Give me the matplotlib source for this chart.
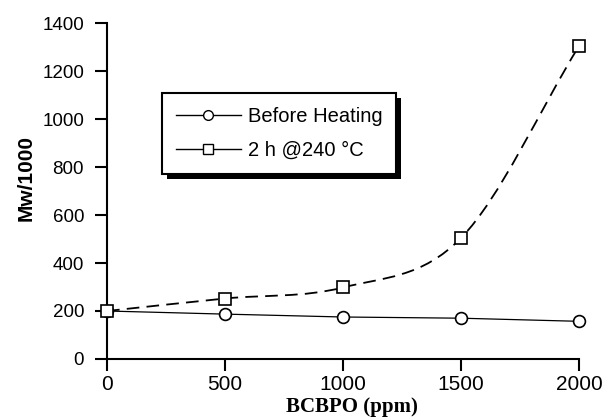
import matplotlib.pyplot as plt
from matplotlib.lines import Line2D
from matplotlib.path import Path
from matplotlib.patches import PathPatch, Rectangle
import numpy as np

ppm = [0, 500, 1000, 1500, 2000]
mw_before = [200, 187, 175, 170, 157]
mw_heated = [200, 252, 298, 504, 1304]
xticks = [0, 500, 1000, 1500, 2000]
yticks = [0, 200, 400, 600, 800, 1000, 1200, 1400]

fig = plt.figure(figsize=(6.06, 4.19), dpi=100)
ax = fig.add_axes([0.1766, 0.1432, 0.7788, 0.8019])

# before heating: thin solid line
ax.plot(ppm, mw_before, color='black', lw=0.9, marker='o', ms=8.5, mfc='white',
        mec='black', mew=1.2, clip_on=False, zorder=3)

# heated: smooth dashed curve through the points (catmull-rom as bezier)
pts = np.column_stack([ppm, mw_heated]).astype(float)
ext = np.vstack([2*pts[0]-pts[1], pts, 2*pts[-1]-pts[-2]])
verts = [tuple(pts[0])]
codes = [Path.MOVETO]
for i in range(1, len(ext)-2):
    p0, p1, p2, p3 = ext[i-1], ext[i], ext[i+1], ext[i+2]
    c1 = p1 + (p2-p0)/6
    c2 = p2 - (p3-p1)/6
    verts += [tuple(c1), tuple(c2), tuple(p2)]
    codes += [Path.CURVE4]*3
curve = PathPatch(Path(verts, codes), fill=False, edgecolor='black', lw=1.3,
                  linestyle=(0, (7, 4)), clip_on=False, zorder=2)
ax.add_patch(curve)
ax.plot(ppm, mw_heated, ls='none', marker='s', ms=8.5, mfc='white',
        mec='black', mew=1.2, clip_on=False, zorder=3)

ax.set_xlim(0, 2000)
ax.set_ylim(0, 1400)
ax.set_xticks(xticks)
ax.set_yticks(yticks)
for s in ['top', 'right']:
    ax.spines[s].set_visible(False)
for s in ['left', 'bottom']:
    ax.spines[s].set_linewidth(1.5)
ax.tick_params(length=8.5, width=1.5, direction='out')
ax.tick_params(axis='x', labelsize=15, pad=3)
ax.tick_params(axis='y', labelsize=13.5, pad=8)
for lab in ax.get_xticklabels() + ax.get_yticklabels():
    lab.set_family('Liberation Sans')

ax.set_xlabel('BCBPO (ppm)', family='Liberation Serif', weight='bold', fontsize=15)
ax.xaxis.set_label_coords(0.519, -0.112)
ax.set_ylabel('Mw/1000', family='Liberation Sans', weight='bold', fontsize=15)
ax.yaxis.set_label_coords(-0.152, 0.539)

handles = [
    Line2D([], [], color='black', lw=1, marker='o', ms=7, mfc='white', mec='black'),
    Line2D([], [], color='black', lw=1, marker='s', ms=7, mfc='white', mec='black'),
]
leg = ax.legend(handles, ['Before Heating', '2 h @240 °C'], loc='upper left',
                bbox_to_anchor=(0.1165, 0.7917), borderaxespad=0, fancybox=False,
                edgecolor='black', framealpha=1,
                prop={'family': 'Liberation Sans', 'size': 14.5},
                handlelength=3.2, handletextpad=0.35, borderpad=0.7,
                labelspacing=0.75)
leg.get_frame().set_linewidth(1.5)

# heavy drop shadow behind the legend box
fig.canvas.draw()
bb = leg.get_frame().get_window_extent().transformed(fig.transFigure.inverted())
dx, dy = 5/606, 5/419
ax.add_patch(Rectangle((bb.x0+dx, bb.y0-dy), bb.width, bb.height, transform=fig.transFigure,
                       facecolor='black', edgecolor='none', clip_on=False, zorder=4.9))

fig.savefig('out.png', dpi=100)
